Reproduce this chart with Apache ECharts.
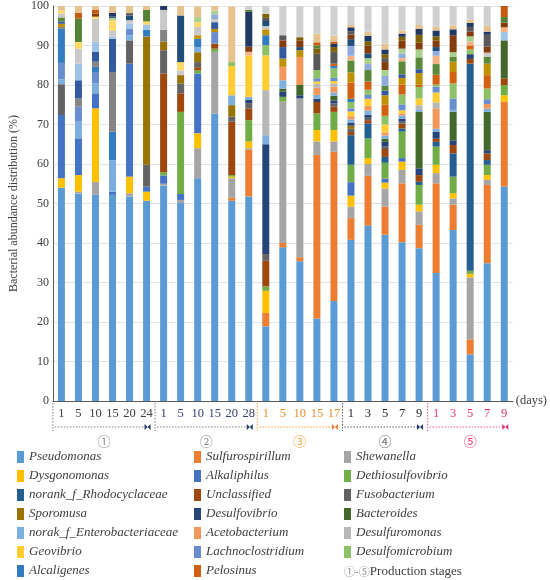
<!DOCTYPE html>
<html lang="en">
<head>
<meta charset="UTF-8">
<title>Bacterial abundance distribution</title>
<script src="https://cdn.jsdelivr.net/npm/echarts@6/dist/echarts.min.js"></script>
<style>html,body{margin:0;padding:0;background:#fff;}</style>
</head>
<body>
<div id="main" style="width: 550px;height: 580px;"></div>
<script>
// sampling days of the five production stages
var stageDays = [
  [1, 5, 10, 15, 20, 24],
  [1, 5, 10, 15, 20, 28],
  [1, 5, 10, 15, 17],
  [1, 3, 5, 7, 9],
  [1, 3, 5, 7, 9]
];
var stageMarks = ['①', '②', '③', '④', '⑤'];

// relative abundance (%), one value per sample, stacked bottom-up in this order
var pseudomonas = [54, 52.5, 52.2, 52.2, 51.8, 50.7, 54.5, 50.1, 56.4, 72.8, 50.7, 51.8, 18.9, 38.9, 35.4, 20.9, 25.3, 40.8, 44.4, 42.1, 40.2, 38.7, 32.4, 43.3, 11.8, 34.9, 54.3];
var sulfurospirillum = [0, 0, 0, 0, 0, 0, 0, 0, 0, 0, 0.8, 11.8, 3.4, 1.1, 1.0, 41.4, 37.8, 5.5, 12.6, 7.1, 14.9, 5.9, 22.7, 6.4, 3.8, 19.8, 21.5];
var shewanella = [0, 0.5, 3.3, 0, 0.8, 0, 0.5, 0.8, 7.6, 15.6, 4.9, 0.4, 0, 35.8, 40.2, 3.4, 2.6, 2.9, 3.0, 4.6, 3.4, 3.4, 2.6, 1.6, 15.7, 1.3, 0];
var dysgonomonas = [2.4, 4.2, 18.6, 0, 4.2, 2.3, 0, 0, 3.8, 0, 0.4, 1.7, 5.6, 0, 0, 2.9, 2.9, 2.8, 1.5, 1.5, 2.1, 1.7, 2.1, 1.3, 0.9, 1.2, 1.6];
var alkaliphilus = [16, 9.3, 3.8, 0.8, 28.6, 1.3, 2.1, 1.5, 15.1, 0, 0, 0, 0, 0, 0, 0, 0, 3.4, 0, 1.0, 0.9, 0, 0, 0, 0, 0, 0];
var dethiosulfovibrio = [0, 0, 0, 0, 0, 0, 0.8, 20.8, 0.8, 0.8, 0.4, 5.4, 1.1, 1.2, 0, 4.2, 4.6, 4.4, 5.0, 4.0, 6.7, 5.0, 4.6, 4.2, 0.8, 2.6, 2.6];
var rhodocyclaceae = [0, 0, 0, 0, 0, 0, 0, 0, 0, 0, 0, 0, 0, 0, 0, 0, 0, 7.5, 3.8, 1.5, 0.8, 0.8, 1.2, 5.9, 52.4, 1.2, 0];
var unclassified = [0, 0, 0, 0, 0, 0, 25.0, 4.7, 0.8, 1.3, 13.5, 3.0, 6.5, 0, 0, 2.9, 1.3, 0.8, 0.8, 2.0, 1.2, 1.7, 0.8, 2.1, 1.2, 1.7, 1.7];
var fusobacterium = [7.8, 0, 0, 0, 5.9, 5.5, 5.9, 2.5, 1.3, 0, 1.3, 1.3, 1.7, 0, 0, 0, 0.8, 0.8, 0.6, 0.6, 0.5, 0, 0, 0, 0, 0, 0];
var sporomusa = [0, 0, 0, 0, 0, 32.5, 2.2, 2.1, 2.5, 0, 2.9, 0, 0, 0, 0, 0, 0, 0.8, 0, 0, 0, 0, 0, 0, 0, 0, 0];
var desulfovibrio = [0, 0, 0, 0, 0, 0, 0, 0, 0, 0, 0, 0.8, 27.8, 1.3, 0.8, 0.8, 0.8, 0.8, 0.8, 1.2, 0.8, 1.7, 1.7, 1.2, 1.2, 0.8, 0];
var bacteroides = [0, 0, 0, 0, 0, 0, 0, 0, 0, 0, 0, 0, 0, 0.8, 2.6, 0, 1.2, 0, 0, 0.8, 0, 14.3, 0, 7.2, 0, 9.7, 9.6];
var enterobacteriaceae = [1.2, 4.2, 2.5, 8.0, 1.3, 0, 0, 0, 1.3, 0, 2.5, 0.8, 2.3, 2.1, 0, 1.0, 0.8, 0.8, 1.0, 0.8, 0.8, 0.5, 0.8, 0.5, 0, 0.8, 0];
var acetobacterium = [0, 0, 0, 0, 0, 0, 0, 0, 0, 0, 0, 0, 0, 3.4, 7.1, 1.8, 1.5, 0.8, 1.2, 0.8, 0.5, 0, 5.2, 0, 0, 1.2, 0];
var desulfuromonas = [0, 0, 0, 0, 0, 0, 0, 0, 0, 0, 0, 0, 11.4, 0, 0, 1.0, 0.8, 0, 0, 0, 0, 1.2, 1.5, 0, 0, 0, 0];
var geovibrio = [0, 0, 0, 0, 0, 0, 0, 0, 0, 0, 7.4, 10.5, 8.8, 0, 0, 0.6, 0.6, 1.2, 1.8, 2.0, 0.8, 1.7, 2.5, 0, 0, 0, 0];
var lachnoclostridium = [4.2, 3.8, 2.9, 0, 1.7, 0, 0, 0, 0, 2.9, 0, 0, 0, 0, 0, 0.8, 0.8, 0.8, 1.0, 0, 1.5, 0, 1.5, 2.9, 0, 1.2, 0];
var desulfomicrobium = [0, 0, 0, 0, 0, 0, 0, 0, 0, 0, 1.0, 0, 2.6, 0, 0, 2.1, 2.4, 1.6, 1.3, 2.2, 2.5, 2.9, 0.5, 3.8, 1.2, 2.7, 0];
var alcaligenes = [8.6, 0, 1.3, 7.2, 0, 1.7, 0, 0, 2.1, 0, 0, 0, 2.5, 0, 0, 0, 0.6, 0.8, 0, 0, 0, 0, 0, 0, 0, 0, 0];
var pelosinus = [0, 0, 0, 0, 0, 0, 0, 0, 0, 0, 0, 0, 0, 0, 0, 0, 0.6, 4.1, 2.1, 2.8, 2.5, 0.6, 2.5, 2.9, 1.0, 3.4, 0];

// minor genera not named in the legend
var other21 = [0.5, 2.1, 1.3, 15.1, 0, 0, 3.0, 0, 0, 0, 0, 0, 0, 0, 0, 0, 0, 0, 0, 0, 0, 0, 0, 0, 0, 0, 0];
var other22 = [0.8, 0, 0, 0, 0, 0, 0, 0, 0.9, 0.8, 0, 0, 1.5, 2.1, 1.7, 0, 0, 2.6, 0, 2.4, 1.7, 2.9, 0, 2.6, 0, 2.9, 0];
var other23 = [0.6, 4.6, 2.5, 8.4, 0, 0, 0, 0, 0, 1.7, 0, 0, 0, 2.9, 0, 0, 0, 0, 0, 1.2, 0.9, 1.0, 0, 0, 0, 0, 0];
var other24 = [1.0, 0, 0, 0, 0, 0, 0, 0, 0, 0, 0, 0, 0, 0, 0, 0, 0, 3.0, 2.9, 1.2, 3.3, 3.0, 2.7, 1.2, 0, 1.8, 0];
var other25 = [0, 4.2, 2.5, 0.5, 1.3, 1.3, 0, 0, 0, 0, 0, 0, 0, 0, 0, 0, 0, 0, 0, 0, 0, 0, 0, 0, 0, 0, 2.1];
var other26 = [0, 0, 0, 0, 0, 0, 0, 0, 0, 0, 0, 0.9, 0, 0, 0, 0, 0, 1.2, 0, 0, 0.8, 0, 2.1, 0, 1.0, 0, 1.2];
var other27 = [1.0, 3.8, 5.9, 1.6, 0.8, 0, 5.0, 1.2, 2.1, 0.8, 0, 0, 0.8, 0, 0, 0, 0, 0, 0, 0, 0, 0, 0, 0, 0, 1.0, 0];
var other28 = [0.8, 1.7, 0.5, 2.6, 0, 0.8, 0, 2.1, 1.2, 0, 0, 0, 0, 0, 0, 0, 0, 0, 0, 0, 0, 0, 0, 0, 0, 0, 0];
var other29 = [0, 0, 0, 0, 0, 0, 0, 0, 0, 1.2, 0, 0, 0, 0, 0, 0, 0, 2.5, 1.5, 2.5, 1.2, 0, 1.2, 0, 0, 0, 0];
var other30 = [0, 0, 0, 0.6, 0, 0, 0, 0, 1.3, 0.9, 0, 0, 0, 0, 0, 0, 0, 0, 1.5, 1.5, 1.2, 2.0, 0, 1.2, 1.3, 0, 0];
var other31 = [0, 0, 0, 0.3, 1.2, 0, 0, 11.8, 0, 0, 0, 0, 1.3, 0, 0.8, 0, 0, 1.7, 1.2, 0, 0, 0, 1.0, 0, 0, 0, 0];
var other32 = [0, 0, 0.8, 0, 0, 0, 0, 0, 0, 0, 0, 1.3, 0, 1.7, 1.7, 0, 0, 1.2, 2.0, 2.0, 2.0, 1.7, 1.7, 4.3, 1.2, 1.5, 1.2];
var other33 = [0, 0, 0, 0, 0.6, 0, 0, 0, 0, 0, 0, 0, 0.8, 1.3, 0, 4.1, 3.0, 0.8, 0, 1.0, 0, 0, 0, 0, 1.2, 3.0, 0];
var other34 = [0, 0, 0, 0, 0, 0, 0, 0, 0, 0, 0, 0, 1.0, 0, 0.8, 1.3, 1.2, 0, 1.0, 1.0, 1.0, 2.0, 1.0, 0, 0, 0, 0];
var other35 = [0, 0, 0, 1.0, 0, 0, 1.0, 0, 0, 0, 0, 8.8, 0, 0, 0, 0, 0.8, 1.0, 1.5, 1.2, 0.8, 1.5, 1.5, 1.5, 1.0, 0.8, 0];
var other36 = [0, 5.9, 0, 0, 0, 2.9, 0, 0, 0, 0, 0, 0.5, 0, 0, 0, 0.8, 0, 0, 0, 0, 0, 0, 0, 0, 0, 0, 1.4];
var other37 = [0, 1.5, 1.0, 0, 0, 0, 0, 0, 0, 0, 0, 0, 0, 0, 0, 0.8, 0.6, 0, 0, 0, 0, 0, 0, 0, 0, 0, 2.8];
var other38 = [1.1, 1.7, 1.0, 1.7, 1.8, 1.0, 0, 2.4, 2.7, 1.2, 14.0, 0, 0, 0, 0, 2.2, 1.5, 0.6, 1.0, 1.5, 0.8, 1.0, 1.0, 1.0, 0.8, 1.5, 0];
var other39 = [0, 0, 0, 0, 0, 0, 0, 0, 0, 0, 0, 1.0, 2.0, 7.4, 7.9, 7.0, 7.5, 4.8, 6.5, 9.5, 6.2, 4.8, 5.2, 4.9, 3.5, 5.0, 0];

var genusNames = [
  'Pseudomonas', 'Sulfurospirillum', 'Shewanella', 'Dysgonomonas', 'Alkaliphilus',
  'Dethiosulfovibrio', 'norank_f_Rhodocyclaceae', 'Unclassified', 'Fusobacterium', 'Sporomusa',
  'Desulfovibrio', 'Bacteroides', 'norak_f_Enterobacteriaceae', 'Acetobacterium', 'Desulfuromonas',
  'Geovibrio', 'Lachnoclostridium', 'Desulfomicrobium', 'Alcaligenes', 'Pelosinus'
];
var genusValues = [
  pseudomonas, sulfurospirillum, shewanella, dysgonomonas, alkaliphilus,
  dethiosulfovibrio, rhodocyclaceae, unclassified, fusobacterium, sporomusa,
  desulfovibrio, bacteroides, enterobacteriaceae, acetobacterium, desulfuromonas,
  geovibrio, lachnoclostridium, desulfomicrobium, alcaligenes, pelosinus
];
var genusColors = [
  '#5B9BD5', '#ED7D31', '#A5A5A5', '#FFC000', '#4472C4',
  '#70AD47', '#255E91', '#9E480E', '#636363', '#997300',
  '#264478', '#43682B', '#7CAFDD', '#F1975A', '#B7B7B7',
  '#FFCD33', '#698ED0', '#8CC168', '#327DC2', '#D26012'
];
var otherValues = [other21, other22, other23, other24, other25, other26, other27, other28, other29, other30,
  other31, other32, other33, other34, other35, other36, other37, other38, other39];
var otherColors = ['#848484', '#BF9000', '#335AA1', '#5A8A39', '#9DC3E6', '#F4B183', '#C9C9C9', '#FFD966', '#8FAADC', '#A9D18E',
  '#1F4E79', '#843C0C', '#595959', '#7F6000', '#203864', '#548235', '#C55A11', '#E6C28F', '#D0D0D0'];

var labelColors = ['#404040', '#34406E', '#E8902A', '#262626', '#E5336A'];
var lineColors = ['#7F7F7F', '#7F7F7F', '#F2A33A', '#595959', '#EC5A8A'];
var bowColors = ['#1F3864', '#1F3864', '#ED7D31', '#1F3864', '#E8336D'];
var markColors = ['#8C8C8C', '#8C8C8C', '#F2A33A', '#6E6E6E', '#E8336D'];

var serif = '"Liberation Serif", "DejaVu Serif", serif';

var categories = [], stageOf = [], dayOf = [];
stageDays.forEach(function (days, s) {
  days.forEach(function (d) {
    categories.push(stageMarks[s] + d);
    stageOf.push(s);
    dayOf.push(d);
  });
});

var chartDom = document.getElementById('main');
var myChart = echarts.init(chartDom);

var seriesList = [];
genusNames.forEach(function (name, k) {
  seriesList.push({
    name: name, type: 'bar', stack: 'total', barWidth: 7,
    itemStyle: { color: genusColors[k] },
    data: genusValues[k]
  });
});
otherValues.forEach(function (vals, k) {
  seriesList.push({
    name: 'other' + (k + 21), type: 'bar', stack: 'total', barWidth: 7,
    itemStyle: { color: otherColors[k] },
    data: vals
  });
});

var labelRich = {};
labelColors.forEach(function (c, s) {
  labelRich['s' + s] = { color: c, fontFamily: serif, fontSize: 12.5 };
});

var legendText = { fontFamily: serif, fontStyle: 'italic', fontSize: 13, color: '#404040', lineHeight: 14 };
function legendColumn(col, left) {
  return {
    orient: 'vertical', left: left, top: 450, padding: 0, itemWidth: 7, itemHeight: 12, itemGap: 5,
    icon: 'rect', selectedMode: false, textStyle: legendText,
    data: genusNames.filter(function (n, i) { return i % 3 === col; })
  };
}

var option = {
  animation: false,
  grid: { left: 33, right: 24, top: 4, bottom: 179 },
  legend: [legendColumn(0, 17), legendColumn(1, 194), legendColumn(2, 344)],
  xAxis: {
    type: 'category',
    data: categories,
    axisLine: { lineStyle: { color: '#595959' } },
    axisTick: { show: false },
    axisLabel: {
      interval: 0, margin: 6,
      formatter: function (v, i) { return '{s' + stageOf[i] + '|' + dayOf[i] + '}'; },
      rich: labelRich
    },
    name: '(days)', nameLocation: 'end', nameGap: 3,
    nameTextStyle: { fontFamily: serif, fontSize: 12.5, color: '#404040', padding: [24, 0, 0, 0] }
  },
  yAxis: {
    type: 'value', min: 0, max: 100, interval: 10,
    name: 'Bacterial abundance distribution (%)', nameLocation: 'middle', nameGap: 19,
    nameTextStyle: { fontFamily: serif, fontSize: 12, color: '#404040' },
    axisLine: { show: true, lineStyle: { color: '#595959' } },
    axisTick: { show: false },
    axisLabel: { fontFamily: serif, fontSize: 12, color: '#404040', margin: 4 },
    splitLine: { lineStyle: { color: '#E4E4E4' } }
  },
  series: seriesList
};
myChart.setOption(option);

// stage brackets under the day labels, placed from the category axis
function drawStages() {
  var px = function (i) { return myChart.convertToPixel({ xAxisIndex: 0 }, i); };
  var y0 = myChart.convertToPixel({ yAxisIndex: 0 }, 0);
  var band = px(1) - px(0);
  var els = [];
  var start = 0;
  stageDays.forEach(function (days, s) {
    var a = start, b = start + days.length - 1;
    start += days.length;
    var left = px(a) - band / 2;
    var right = px(b) + 1;
    var yb = y0 + 26;
    els.push({ type: 'line', shape: { x1: left, y1: y0 + 2, x2: left, y2: y0 + 30 },
      style: { stroke: lineColors[s], lineWidth: 1, lineDash: [1.5, 1.5] } });
    els.push({ type: 'line', shape: { x1: left + 2, y1: yb, x2: right - 3, y2: yb },
      style: { stroke: lineColors[s], lineWidth: 1, lineDash: [1.5, 1.5] } });
    els.push({ type: 'polygon', shape: { points: [[right - 3, yb - 3], [right, yb], [right - 3, yb + 3]] },
      style: { fill: bowColors[s] } });
    els.push({ type: 'polygon', shape: { points: [[right + 3, yb - 3], [right, yb], [right + 3, yb + 3]] },
      style: { fill: bowColors[s] } });
    els.push({ type: 'text', x: (px(a) + px(b)) / 2, y: y0 + 40,
      style: { text: stageMarks[s], fill: markColors[s], font: '13px "Noto Sans CJK SC", "DejaVu Sans"',
        align: 'center', verticalAlign: 'middle' } });
  });
  els.push({ type: 'text', x: 344, y: 572,
    style: {
      text: '{m|①-⑤}{t|Production stages}', verticalAlign: 'middle',
      rich: {
        m: { fill: '#8C8C8C', fontSize: 11, fontFamily: '"Noto Sans CJK SC", "DejaVu Sans"' },
        t: { fill: '#404040', fontSize: 13, fontFamily: serif }
      }
    } });
  myChart.setOption({ graphic: els });
}
drawStages();
</script>
</body>
</html>
